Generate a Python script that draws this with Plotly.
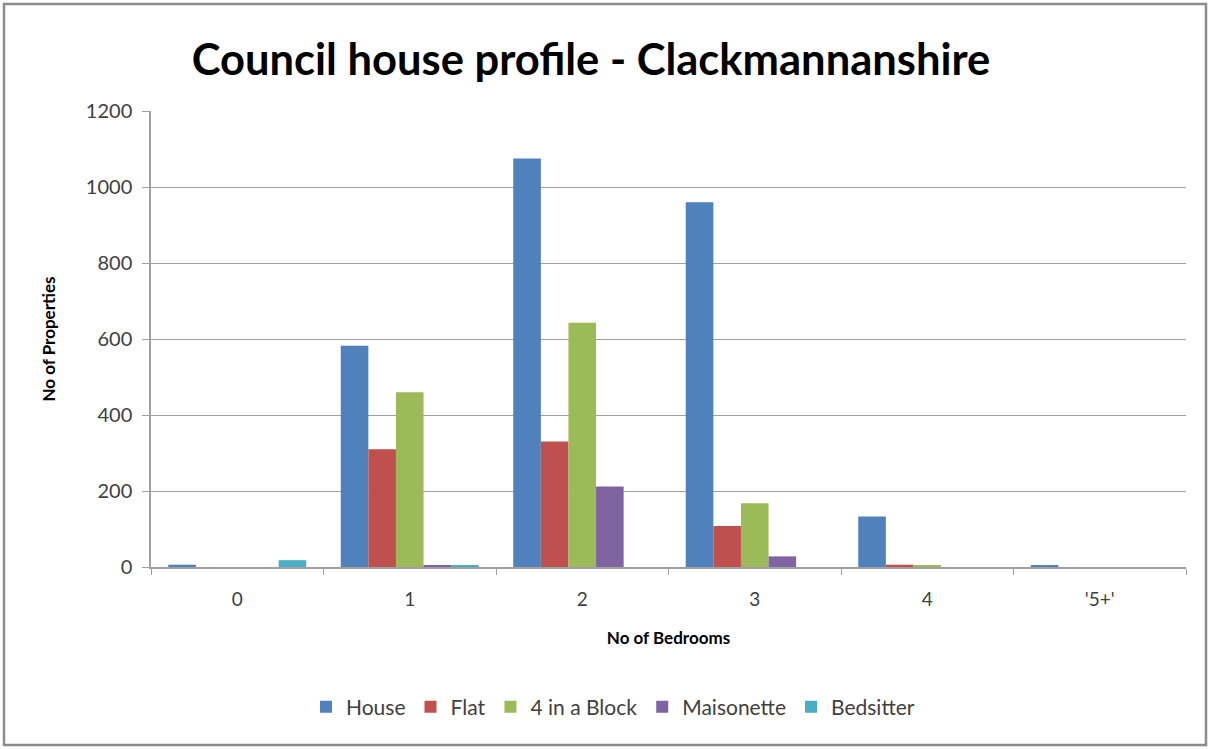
import plotly.graph_objects as go

categories = ["0", "1", "2", "3", "4", "'5+'"]
house = [6, 582, 1075, 960, 133, 5]
flat = [0, 310, 330, 108, 6, 0]
block4 = [0, 460, 643, 168, 5, 0]
maisonette = [0, 5, 212, 28, 0, 0]
bedsitter = [18, 5, 0, 0, 0, 0]

series = [
    ("House", house, "#4F81BD"),
    ("Flat", flat, "#C0504D"),
    ("4 in a Block", block4, "#9BBB59"),
    ("Maisonette", maisonette, "#8064A2"),
    ("Bedsitter", bedsitter, "#4BACC6"),
]

fig = go.Figure()
for name, vals, col in series:
    fig.add_trace(go.Bar(name=name, x=categories, y=vals, marker_color=col,
                         marker_line_width=0))

W, H = 1210, 749
L, R, T, B = 151, 24, 111, 182
pw, ph = W - L - R, H - T - B

font_family = "Lato, 'Open Sans', sans-serif"
fig.update_layout(
    width=W, height=H,
    margin=dict(l=L, r=R, t=T, b=B),
    paper_bgcolor="white", plot_bgcolor="white",
    barmode="group", bargap=0.2, bargroupgap=0,
    font=dict(family=font_family, color="#404040", size=17),
    title=dict(text="<b>Council house profile - Clackmannanshire</b>",
               x=591 / W, xanchor="center", y=1 - 60 / H, yanchor="middle",
               font=dict(size=43.5, color="black", family=font_family)),
    legend=dict(orientation="h", x=(613 - L) / pw, xanchor="center",
                y=-(707 - (T + ph)) / ph, yanchor="middle",
                font=dict(size=21, color="#404040"), itemwidth=30,
                traceorder="normal"),
    xaxis=dict(
        title=dict(text="<b>No of Bedrooms</b>", font=dict(size=17, color="black"), standoff=24),
        showline=True, linecolor="#A0A0A0", linewidth=1.5,
        ticks="outside", tickson="boundaries", ticklen=6, tickcolor="#A0A0A0",
        showgrid=False, tickfont=dict(size=19, color="#404040"),
        ticklabelstandoff=14,
    ),
    yaxis=dict(
        title=dict(text="<b>No of Properties</b>", font=dict(size=17, color="black"), standoff=26),
        range=[0, 1200], dtick=200, showline=True, linecolor="#A0A0A0", linewidth=1.5,
        ticks="outside", ticklen=7, tickcolor="#A0A0A0",
        showgrid=True, gridcolor="#A0A0A0", gridwidth=1.2,
        tickfont=dict(size=20, color="#404040"), zeroline=False,
        ticklabelstandoff=6,
    ),
    shapes=[dict(type="rect", xref="paper", yref="paper",
                 x0=(4 - L) / pw, x1=(1206 - L) / pw,
                 y0=-(745 - T - ph) / ph, y1=1 + (T - 4) / ph,
                 line=dict(color="#8C8C8C", width=2.5), layer="below")],
)

fig.write_html("out.html", config={"displayModeBar": False},
               post_script="document.body.style.margin='0';")
